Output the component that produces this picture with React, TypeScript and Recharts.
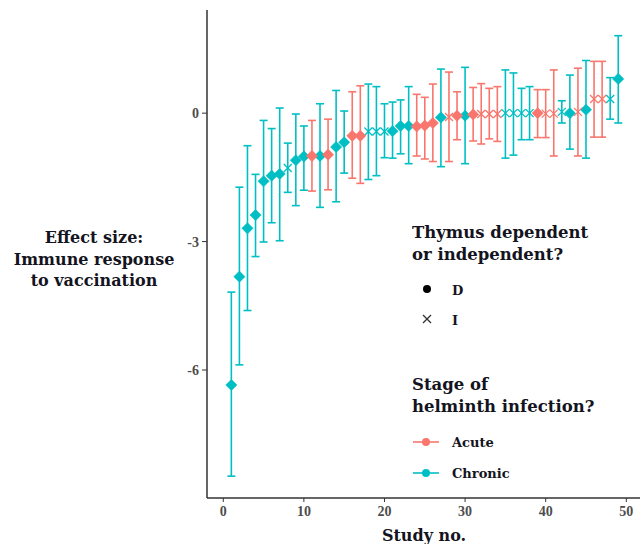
import { ComposedChart, ErrorBar, Scatter, XAxis, YAxis } from "recharts"

// values, one entry per study
const studyNo = [
  1, 2, 3, 4, 5, 6, 7, 8, 9, 10, 11, 12, 13, 14, 15, 16, 17, 18, 19, 20, 21, 22, 23, 24, 25,
  26, 27, 28, 29, 30, 31, 32, 33, 34, 35, 36, 37, 38, 39, 40, 41, 42, 43, 44, 45, 46, 47, 48, 49,
]
const effect = [
  -6.35, -3.82, -2.69, -2.38, -1.59, -1.46, -1.42, -1.28, -1.1, -1.01, -1.0, -1.0, -0.97, -0.79,
  -0.68, -0.53, -0.53, -0.43, -0.43, -0.43, -0.42, -0.3, -0.3, -0.31, -0.29, -0.23, -0.1, -0.09,
  -0.06, -0.06, -0.03, -0.02, -0.02, -0.02, 0.0, 0.0, 0.0, 0.0, 0.0, -0.01, -0.01, 0.03, 0.0,
  0.03, 0.08, 0.33, 0.33, 0.33, 0.8,
]
const lower = [
  -8.48, -5.88, -4.61, -3.35, -3.01, -2.56, -2.98, -1.85, -2.16, -1.8, -1.82, -2.2, -1.79, -2.07,
  -1.4, -1.52, -1.64, -1.55, -1.46, -1.04, -1.05, -0.95, -1.18, -1.0, -1.07, -1.13, -1.25, -1.13,
  -0.62, -1.18, -0.65, -0.72, -0.6, -0.66, -1.05, -0.98, -0.62, -0.62, -0.57, -0.57, -1.0, -0.23,
  -0.84, -1.0, -1.05, -0.56, -0.56, -0.14, -0.23,
]
const upper = [
  -4.18, -1.73, -0.76, -1.43, -0.17, -0.36, 0.12, -0.7, -0.02, -0.3, -0.17, 0.22, -0.14, 0.53,
  0.05, 0.5, 0.64, 0.68, 0.62, 0.22, 0.26, 0.31, 0.62, 0.44, 0.37, 0.68, 1.03, 0.96, 0.5, 1.07,
  0.6, 0.69, 0.58, 0.62, 1.01, 0.94, 0.58, 0.62, 0.55, 0.55, 1.01, 0.29, 0.89, 1.05, 1.23, 1.21,
  1.21, 0.83, 1.81,
]
// A = acute, C = chronic
const stage = [
  "C", "C", "C", "C", "C", "C", "C", "C", "C", "C", "A", "C", "A", "C", "C", "A", "A", "C", "C",
  "C", "C", "C", "C", "A", "A", "A", "C", "A", "A", "C", "A", "A", "A", "A", "C", "C", "C", "C",
  "A", "A", "A", "C", "C", "A", "C", "A", "A", "C", "C",
]
// D = thymus dependent, I = independent
const thymus = [
  "D", "D", "D", "D", "D", "D", "D", "I", "D", "D", "D", "D", "D", "D", "D", "D", "D", "I", "I",
  "I", "D", "D", "D", "D", "D", "D", "D", "I", "D", "D", "D", "I", "I", "I", "I", "I", "I", "I",
  "D", "I", "I", "I", "D", "I", "D", "I", "I", "I", "D",
]

const xTicks = [0, 10, 20, 30, 40, 50]
const yTicks = [-6, -3, 0]

const acuteColor = "#F8766D"
const chronicColor = "#00BFC4"
const textColor = "#141420"
const serif = "'DejaVu Serif', serif"

const rows = studyNo.map((s, i) => ({
  study: s,
  effect: effect[i],
  err: [effect[i] - lower[i], upper[i] - effect[i]],
  stage: stage[i],
  thymus: thymus[i],
}))

const groups = [
  { stage: "C", thymus: "D" },
  { stage: "C", thymus: "I" },
  { stage: "A", thymus: "D" },
  { stage: "A", thymus: "I" },
]

function Diamond(props: any) {
  const { cx, cy, fill } = props
  const r = 5.6
  return (
    <polygon
      points={`${cx},${cy - r} ${cx + r},${cy} ${cx},${cy + r} ${cx - r},${cy}`}
      fill={fill}
      stroke={fill}
      strokeWidth={0.6}
      strokeLinejoin="round"
    />
  )
}

function Cross(props: any) {
  const { cx, cy, fill } = props
  const h = 4
  return (
    <g stroke={fill} strokeWidth={1.3}>
      <line x1={cx - h} y1={cy - h} x2={cx + h} y2={cy + h} />
      <line x1={cx - h} y1={cy + h} x2={cx + h} y2={cy - h} />
    </g>
  )
}

function Overlay() {
  return (
    <svg
      width={640}
      height={544}
      style={{ position: "absolute", left: 0, top: 0, pointerEvents: "none" }}
      fontFamily={serif}
      fontWeight="bold"
      fill={textColor}
    >
      <text x={94} textAnchor="middle" fontSize={16}>
        <tspan x={94} y={243}>Effect size:</tspan>
        <tspan x={94} y={265}>Immune response</tspan>
        <tspan x={94} y={286}>to vaccination</tspan>
      </text>
      <text x={424} y={541} textAnchor="middle" fontSize={16}>Study no.</text>

      <text x={412} y={238} fontSize={16.5}>Thymus dependent</text>
      <text x={412} y={260} fontSize={16.5}>or independent?</text>
      <circle cx={427} cy={289} r={4} fill="#000" />
      <text x={452} y={295} fontSize={13}>D</text>
      <g stroke="#333" strokeWidth={1.2}>
        <line x1={423} y1={315} x2={431} y2={323} />
        <line x1={423} y1={323} x2={431} y2={315} />
      </g>
      <text x={452} y={325} fontSize={13}>I</text>

      <text x={412} y={390} fontSize={16.5}>Stage of</text>
      <text x={412} y={412} fontSize={16.5}>helminth infection?</text>
      <line x1={413} y1={442} x2={439} y2={442} stroke={acuteColor} strokeWidth={1.6} />
      <circle cx={426} cy={442} r={4} fill={acuteColor} />
      <text x={452} y={447} fontSize={13}>Acute</text>
      <line x1={413} y1={473} x2={439} y2={473} stroke={chronicColor} strokeWidth={1.6} />
      <circle cx={426} cy={473} r={4} fill={chronicColor} />
      <text x={452} y={478} fontSize={13}>Chronic</text>
    </svg>
  )
}

export default function App() {
  const tickStyle = { fill: "#4d4d4d", fontSize: 14, fontFamily: "'Liberation Serif', serif", fontWeight: "bold" }
  return (
    <div style={{ position: "absolute", left: 0, top: 0, width: 640, height: 544, background: "#fff" }}>
      <ComposedChart width={640} height={544} margin={{ top: 10, right: 0, bottom: 16, left: 177 }}>
        <XAxis
          type="number"
          dataKey="study"
          domain={[-2.02, 51.7]}
          ticks={xTicks}
          allowDataOverflow
          height={30}
          tickSize={4}
          tickMargin={4}
          axisLine={{ stroke: "#333", strokeWidth: 1.5 }}
          tickLine={{ stroke: "#333" }}
          tick={tickStyle}
        />
        <YAxis
          type="number"
          domain={[-8.99, 2.41]}
          ticks={yTicks}
          allowDataOverflow
          width={30}
          tickSize={5}
          tickMargin={3}
          axisLine={{ stroke: "#333", strokeWidth: 1.5 }}
          tickLine={{ stroke: "#333" }}
          tick={tickStyle}
        />
        {groups.map((g) => {
          const color = g.stage === "A" ? acuteColor : chronicColor
          return (
            <Scatter
              key={g.stage + g.thymus}
              data={rows.filter((r) => r.stage === g.stage && r.thymus === g.thymus)}
              dataKey="effect"
              fill={color}
              shape={g.thymus === "D" ? Diamond : Cross}
              isAnimationActive={false}
            >
              <ErrorBar dataKey="err" direction="y" width={4} stroke={color} strokeWidth={1.6} />
            </Scatter>
          )
        })}
      </ComposedChart>
      <Overlay />
    </div>
  )
}
